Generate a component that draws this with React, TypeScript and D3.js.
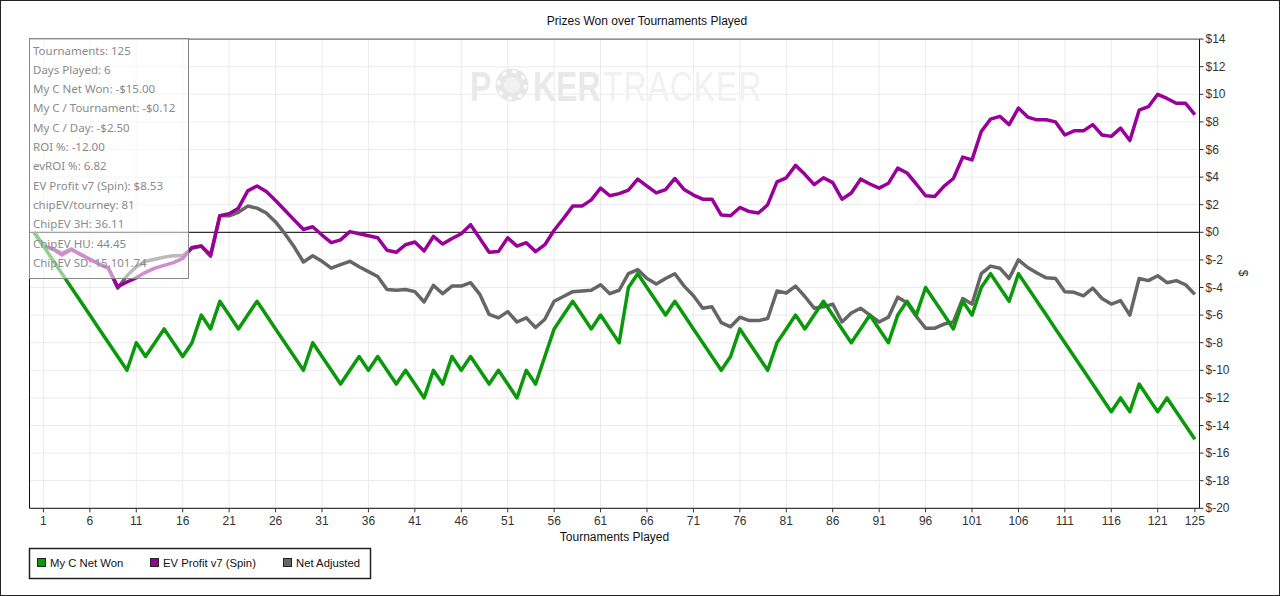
import React from 'react';
import * as d3 from 'd3';

// tournament index 0..125 (0 = start, value 0)
const tournaments = d3.range(0, 126);

const netWon = [
  0, -1, -2, -3, -4, -5, -6, -7, -8, -9, -10,
  -8, -9, -8, -7, -8, -9, -8, -6, -7, -5,
  -6, -7, -6, -5, -6, -7, -8, -9, -10, -8,
  -9, -10, -11, -10, -9, -10, -9, -10, -11, -10,
  -11, -12, -10, -11, -9, -10, -9, -10, -11, -10,
  -11, -12, -10, -11, -9, -7, -6, -5, -6, -7,
  -6, -7, -8, -4, -3, -4, -5, -6, -5, -6,
  -7, -8, -9, -10, -9, -7, -8, -9, -10, -8,
  -7, -6, -7, -6, -5, -6, -7, -8, -7, -6,
  -7, -8, -6, -5, -6, -4, -5, -6, -7, -5,
  -6, -4, -3, -4, -5, -3, -4, -5, -6, -7,
  -8, -9, -10, -11, -12, -13, -12, -13, -11, -12,
  -13, -12, -13, -14, -15,
];

const evProfit = [
  0, -1.0, -1.2, -1.65, -1.25, -1.6, -1.95, -2.3, -2.6, -3.95, -3.6,
  -3.3, -2.9, -2.6, -2.4, -2.2, -1.9, -1.1, -1.0, -1.65, 1.2,
  1.35, 1.75, 3.0, 3.35, 2.95, 2.3, 1.6, 0.9, 0.2, 0.4,
  -0.2, -0.75, -0.55, 0.05, -0.1, -0.25, -0.4, -1.3, -1.45, -0.9,
  -0.7, -1.35, -0.3, -0.85, -0.45, -0.1, 0.55, -0.45, -1.45, -1.4,
  -0.4, -1.0, -0.75, -1.4, -0.9, 0.15, 1.0, 1.9, 1.9, 2.35,
  3.2, 2.65, 2.8, 3.05, 3.85, 3.35, 2.85, 3.1, 3.9, 3.1,
  2.7, 2.4, 2.4, 1.25, 1.2, 1.8, 1.5, 1.4, 2.0, 3.65,
  3.95, 4.85, 4.2, 3.45, 3.95, 3.6, 2.4, 2.85, 3.85, 3.5,
  3.2, 3.55, 4.65, 4.3, 3.5, 2.65, 2.6, 3.35, 3.9, 5.45,
  5.25, 7.3, 8.2, 8.4, 7.8, 9.0, 8.35, 8.15, 8.15, 8.0,
  7.05, 7.35, 7.35, 7.8, 7.05, 6.95, 7.55, 6.65, 8.85, 9.1,
  10.0, 9.7, 9.35, 9.35, 8.53,
];

const netAdjusted = [
  0, -1.0, -1.2, -1.5, -1.2, -1.6, -1.95, -2.3, -2.6, -4.05, -3.15,
  -2.5, -2.1, -1.95, -1.8, -1.7, -1.7, -1.15, -1.0, -1.75, 1.2,
  1.2, 1.45, 1.9, 1.75, 1.4, 0.75, -0.1, -1.05, -2.15, -1.7,
  -2.1, -2.6, -2.35, -2.1, -2.5, -2.85, -3.2, -4.15, -4.2, -4.15,
  -4.3, -5.05, -3.85, -4.45, -3.9, -3.9, -3.65, -4.5, -5.95, -6.2,
  -5.75, -6.5, -6.2, -6.9, -6.3, -5.0, -4.65, -4.3, -4.25, -4.2,
  -3.8, -4.45, -4.2, -3.0, -2.7, -3.35, -3.75, -3.35, -3.0, -3.9,
  -4.6, -5.5, -5.4, -6.55, -6.85, -6.15, -6.4, -6.4, -6.25, -4.25,
  -4.4, -3.9, -4.65, -5.5, -5.4, -5.2, -6.5, -5.85, -5.5, -6.0,
  -6.5, -6.15, -4.7, -5.1, -6.1, -6.95, -6.95, -6.65, -6.5, -4.8,
  -5.2, -3.0, -2.45, -2.6, -3.35, -2.0, -2.55, -2.95, -3.3, -3.35,
  -4.3, -4.35, -4.6, -4.05, -4.8, -5.2, -4.95, -6.0, -3.35, -3.5,
  -3.15, -3.65, -3.5, -3.8, -4.5,
];

const xTicks = [1, 6, 11, 16, 21, 26, 31, 36, 41, 46, 51, 56, 61, 66, 71, 76, 81, 86, 91, 96, 101, 106, 111, 116, 121, 125];
const yTicks = [14, 12, 10, 8, 6, 4, 2, 0, -2, -4, -6, -8, -10, -12, -14, -16, -18, -20];

const statLines = [
  'Tournaments: 125',
  'Days Played: 6',
  'My C Net Won: -$15.00',
  'My C / Tournament: -$0.12',
  'My C / Day: -$2.50',
  'ROI %: -12.00',
  'evROI %: 6.82',
  'EV Profit v7 (Spin): $8.53',
  'chipEV/tourney: 81',
  'ChipEV 3H: 36.11',
  'ChipEV HU: 44.45',
  'ChipEV SD: 15,101.74',
];

const series = [
  { name: 'Net Adjusted', values: netAdjusted, color: '#666666' },
  { name: 'EV Profit v7 (Spin)', values: evProfit, color: '#990099' },
  { name: 'My C Net Won', values: netWon, color: '#0a990a' },
];
const legendOrder = ['My C Net Won', 'EV Profit v7 (Spin)', 'Net Adjusted'];

const W = 1280;
const H = 596;
const plot = { left: 29.5, right: 1199.5, top: 39.1, bottom: 508.3 };
const font = '"Liberation Sans", Arial, sans-serif';

const fmtDollar = (v: number) => (v < 0 ? `$-${Math.abs(v)}` : `$${v}`);

const App = () => {
  const x = d3.scaleLinear().domain([-0.5, 125.5]).range([plot.left, plot.right]);
  const y = d3.scaleLinear().domain([-20, 14]).range([plot.bottom, plot.top]);

  const line = d3.line<number>()
    .x((_, i) => x(tournaments[i]))
    .y(d => y(d));

  const legendX = [37.5, 150.5, 283.5];

  return (
    <svg width={W} height={H} style={{ position: 'absolute', left: 0, top: 0, background: '#fff' }}>
      <rect x={0.5} y={0.5} width={W - 1} height={H - 1} fill="#fff" stroke="#222" />

      <text x={647} y={21} textAnchor="middle" dominantBaseline="central" fontFamily={font} fontSize={12} fill="#111">
        Prizes Won over Tournaments Played
      </text>

      {/* gridlines */}
      <g stroke="#ebebeb" strokeWidth={1}>
        {xTicks.filter(t => t !== 125).map(t => (
          <line key={`gx${t}`} x1={x(t)} x2={x(t)} y1={plot.top} y2={plot.bottom} />
        ))}
        {yTicks.map(v => (
          <line key={`gy${v}`} x1={plot.left} x2={plot.right} y1={y(v)} y2={y(v)} />
        ))}
      </g>

      {/* watermark */}
      <g>
        <circle cx={512} cy={85} r={16.5} fill="#e7e7e7" />
        <circle cx={512} cy={85} r={13.5} fill="none" stroke="#fff" strokeWidth={3} strokeDasharray="4 6.6" />
        <circle cx={512} cy={85} r={8} fill="#f1f1f1" />
        <text transform="translate(470 101) scale(0.76 1)" fontFamily={font} fontSize={42} fill="#e9e9e9">
          <tspan x={0} fontWeight="bold">P</tspan>
          <tspan x={83} fontWeight="bold">KER</tspan>
          <tspan x={175} fill="#f1f1f1" letterSpacing={1.3}>TRACKER</tspan>
        </text>
      </g>

      {/* zero line */}
      <line x1={plot.left} x2={plot.right} y1={y(0)} y2={y(0)} stroke="#000" strokeWidth={1} />

      {/* series */}
      {series.map(s => (
        <path key={s.name} d={line(s.values) ?? ''} fill="none" stroke={s.color} strokeWidth={3.5} strokeLinejoin="round" />
      ))}

      {/* plot frame */}
      <line x1={plot.left} x2={plot.right} y1={plot.top} y2={plot.top} stroke="#555" />
      <line x1={plot.left} x2={plot.left} y1={plot.top} y2={plot.bottom} stroke="#111" />
      <line x1={plot.left} x2={plot.right} y1={plot.bottom} y2={plot.bottom} stroke="#111" />
      <line x1={plot.right} x2={plot.right} y1={plot.top} y2={plot.bottom} stroke="#111" />

      {/* bottom axis */}
      <g fontFamily={font} fontSize={12} fill="#333">
        {xTicks.map(t => (
          <g key={`xt${t}`}>
            <line x1={x(t)} x2={x(t)} y1={plot.bottom} y2={plot.bottom + 4} stroke="#333" />
            <text x={x(t)} y={521} textAnchor="middle" dominantBaseline="central">{t}</text>
          </g>
        ))}
        <text x={(plot.left + plot.right) / 2} y={537} textAnchor="middle" dominantBaseline="central" fill="#111">Tournaments Played</text>
      </g>

      {/* right axis */}
      <g fontFamily={font} fontSize={12} fill="#333">
        {yTicks.map(v => (
          <g key={`yt${v}`}>
            <line x1={plot.right} x2={plot.right + 4} y1={y(v)} y2={y(v)} stroke="#333" />
            <text x={plot.right + 6} y={y(v)} dominantBaseline="central">{fmtDollar(v)}</text>
          </g>
        ))}
        <text x={1243} y={273} textAnchor="middle" dominantBaseline="central" transform="rotate(90 1243 273)">$</text>
      </g>

      {/* stats box */}
      <rect x={29.5} y={38.5} width={159} height={240} fill="#fff" fillOpacity={0.55} stroke="#888" />
      <g fontFamily={'"Noto Sans", "Open Sans", sans-serif'} fontSize={11.5} fill="#8a8a8a">
        {statLines.map((s, i) => (
          <text key={s} x={33} y={50 + i * 19.3} dominantBaseline="central">{s}</text>
        ))}
      </g>

      {/* legend */}
      <rect x={29.5} y={548.5} width={341} height={30} fill="#fff" stroke="#222" strokeWidth={1.5} />
      <g fontFamily={font} fontSize={11.3} fill="#111">
        {legendOrder.map((n, i) => {
          const s = series.find(d => d.name === n)!;
          return (
            <g key={n}>
              <rect x={legendX[i]} y={558.5} width={8} height={8} fill={s.color} stroke="#222" />
              <text x={legendX[i] + 12.5} y={563} dominantBaseline="central">{n}</text>
            </g>
          );
        })}
      </g>
    </svg>
  );
};

export default App;
